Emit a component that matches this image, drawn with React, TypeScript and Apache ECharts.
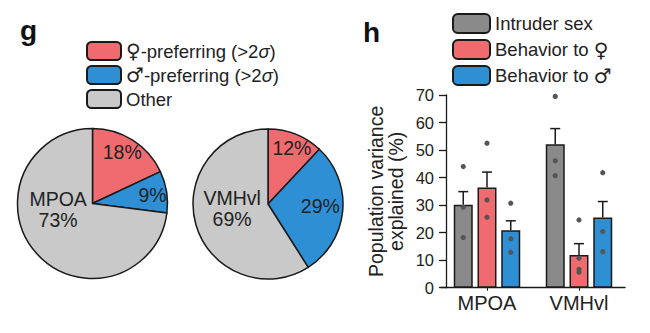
import React, { useEffect, useRef } from "react";
import * as echarts from "echarts";

const FONT = "'Liberation Sans', Arial, sans-serif";

// Panel g: pie data
const pieNames = ["♀-preferring (>2σ)", "♂-preferring (>2σ)", "Other"];
const pieColors = ["#ef6b6f", "#2e8fd5", "#c9c9c9"];
const mpoaPie = [18, 9, 73];
const vmhPie = [12, 29, 59];
const mpoaPieLabels = ["18%", "9%", "MPOA\n73%"];
const vmhPieLabels = ["12%", "29%", "VMHvl\n69%"];

// Panel h: bar data
const regions = ["MPOA", "VMHvl"];
const barNames = ["Intruder sex", "Behavior to ♀", "Behavior to ♂"];
const barColors = ["#8a8a8a", "#ef6b6f", "#2e8fd5"];
const intruderMean = [30.1, 52.1];
const intruderSem = [4.8, 5.7];
const femaleMean = [36.4, 11.9];
const femaleSem = [5.6, 4.1];
const maleMean = [20.9, 25.5];
const maleSem = [3.4, 5.8];
const intruderDots = [[44, 29.2, 18.2], [69.5, 46.1, 40.7]];
const femaleDots = [[52.5, 31.9, 25.6], [24.6, 10.7, 6.7, 5.6]];
const maleDots = [[30.7, 17.8, 12.9], [41.8, 20.4, 13.1]];
const yTicks = { min: 0, max: 70, interval: 10 };

const BAR_W = 19;
const STEP = 23.75;

export default function App() {
  const ref = useRef<HTMLDivElement>(null);
  useEffect(() => {
    document.body.style.margin = "0";
    const chart = echarts.init(ref.current!, null, { renderer: "svg" });
    const means = [intruderMean, femaleMean, maleMean];
    const sems = [intruderSem, femaleSem, maleSem];
    const dots = [intruderDots, femaleDots, maleDots];
    const errData: number[][] = [];
    const dotData: number[][] = [];
    means.forEach((m, si) =>
      m.forEach((v, ci) => errData.push([ci, si, v, sems[si][ci]]))
    );
    dots.forEach((d, si) =>
      d.forEach((arr, ci) => arr.forEach((v) => dotData.push([ci, si, v])))
    );

    const pieOffsets = [
      [[8, -17], [20, -2], [-4, -21]],
      [[9, -18], [12, -2], [3, -7]],
    ];
    const makePie = (center: number[], values: number[], labels: string[], idx: number) => ({
      type: "pie",
      center,
      radius: 75,
      startAngle: 90,
      clockwise: true,
      silent: true,
      emphasis: { disabled: true },
      labelLine: { show: false },
      itemStyle: { borderColor: "#1a1a1a", borderWidth: 1.5 },
      label: {
        show: true,
        position: "inside",
        color: "#222",
        fontFamily: FONT,
        fontSize: 19.5,
        lineHeight: 21,
        formatter: (p: any) => labels[p.dataIndex],
      },
      labelLayout: (p: any) => ({ dx: pieOffsets[idx][p.dataIndex][0], dy: pieOffsets[idx][p.dataIndex][1] }),
      data: values.map((v, i) => ({
        name: pieNames[i],
        value: v,
        itemStyle: { color: pieColors[i] },
        label: i === 2 ? { fontSize: 19.5, lineHeight: 21 } : undefined,
      })),
    });

    const legendFmt = (name: string) =>
      name.replace("♀", "{s|♀}").replace("♂", "{s|♂}").replace("σ", "{i|σ}");
    const legendRich = {
      i: { fontSize: 18.5, fontStyle: "italic", color: "#222", fontFamily: FONT },
      s: { fontSize: 20, color: "#222", fontFamily: "'DejaVu Sans'" },
    };

    chart.setOption({
      animation: false,
      textStyle: { fontFamily: FONT },
      graphic: [
        { type: "text", left: 20, top: 16, style: { text: "g", font: `bold 28px ${FONT}`, fill: "#111" } },
        { type: "text", left: 363, top: 18, style: { text: "h", font: `bold 28px ${FONT}`, fill: "#111" } },
      ],
      legend: [
        {
          orient: "vertical",
          left: 86,
          top: 41,
          padding: 0,
          itemWidth: 34,
          itemHeight: 18,
          itemGap: 4,
          selectedMode: false,
          data: pieNames,
          formatter: legendFmt,
          textStyle: { fontSize: 18.5, color: "#222", rich: legendRich },
        },
        {
          orient: "vertical",
          left: 452,
          top: 13,
          padding: 0,
          itemWidth: 37,
          itemHeight: 19,
          itemGap: 5,
          selectedMode: false,
          data: barNames,
          formatter: legendFmt,
          textStyle: { fontSize: 18.5, color: "#222", rich: legendRich },
        },
      ],
      grid: { left: 441, right: 25, top: 95, bottom: 45.3 },
      xAxis: {
        type: "category",
        data: regions,
        axisLine: { lineStyle: { color: "#1a1a1a", width: 1.3 } },
        axisTick: { show: true, alignWithLabel: true, length: 3, lineStyle: { color: "#1a1a1a" } },
        axisLabel: { fontSize: 20, color: "#222", margin: 5 },
      },
      yAxis: {
        type: "value",
        min: yTicks.min,
        max: yTicks.max,
        interval: yTicks.interval,
        offset: -5,
        name: "Population variance\nexplained (%)",
        nameLocation: "middle",
        nameGap: 40,
        nameTextStyle: { fontSize: 19.5, lineHeight: 20, color: "#222" },
        axisLine: { show: true, lineStyle: { color: "#1a1a1a", width: 1.3 } },
        axisTick: { show: true, length: 7, lineStyle: { color: "#1a1a1a", width: 1.3 } },
        axisLabel: { fontSize: 16.5, color: "#222", margin: 12 },
        splitLine: { show: false },
      },
      series: [
        makePie([92.5, 203.5], mpoaPie, mpoaPieLabels, 0),
        makePie([268, 204], vmhPie, vmhPieLabels, 1),
        ...means.map((m, si) => ({
          type: "bar",
          name: barNames[si],
          data: m,
          barWidth: BAR_W,
          barGap: "25%",
          silent: true,
          itemStyle: { color: barColors[si], borderColor: "#1a1a1a", borderWidth: 1.5 },
          z: 2,
        })),
        {
          type: "custom",
          silent: true,
          z: 1,
          encode: { x: 0, y: 2 },
          data: errData,
          renderItem: (params: any, api: any) => {
            const ci = api.value(0);
            const si = api.value(1);
            const m = api.value(2);
            const s = api.value(3);
            const base = api.coord([ci, m]);
            const top = api.coord([ci, m + s]);
            const x = base[0] + (si - 1) * STEP;
            const style = { stroke: "#1a1a1a", lineWidth: 1.5 };
            return {
              type: "group",
              children: [
                { type: "line", shape: { x1: x, y1: base[1], x2: x, y2: top[1] }, style },
                { type: "line", shape: { x1: x - 5, y1: top[1], x2: x + 5, y2: top[1] }, style },
              ],
            };
          },
        },
        {
          type: "custom",
          silent: true,
          z: 5,
          encode: { x: 0, y: 2 },
          data: dotData,
          renderItem: (params: any, api: any) => {
            const ci = api.value(0);
            const si = api.value(1);
            const v = api.value(2);
            const p = api.coord([ci, v]);
            return {
              type: "circle",
              shape: { cx: p[0] + (si - 1) * STEP, cy: p[1], r: 2.6 },
              style: { fill: "#555" },
            };
          },
        },
      ],
    });
    return () => chart.dispose();
  }, []);
  return <div ref={ref} style={{ width: 650, height: 333 }} />;
}
